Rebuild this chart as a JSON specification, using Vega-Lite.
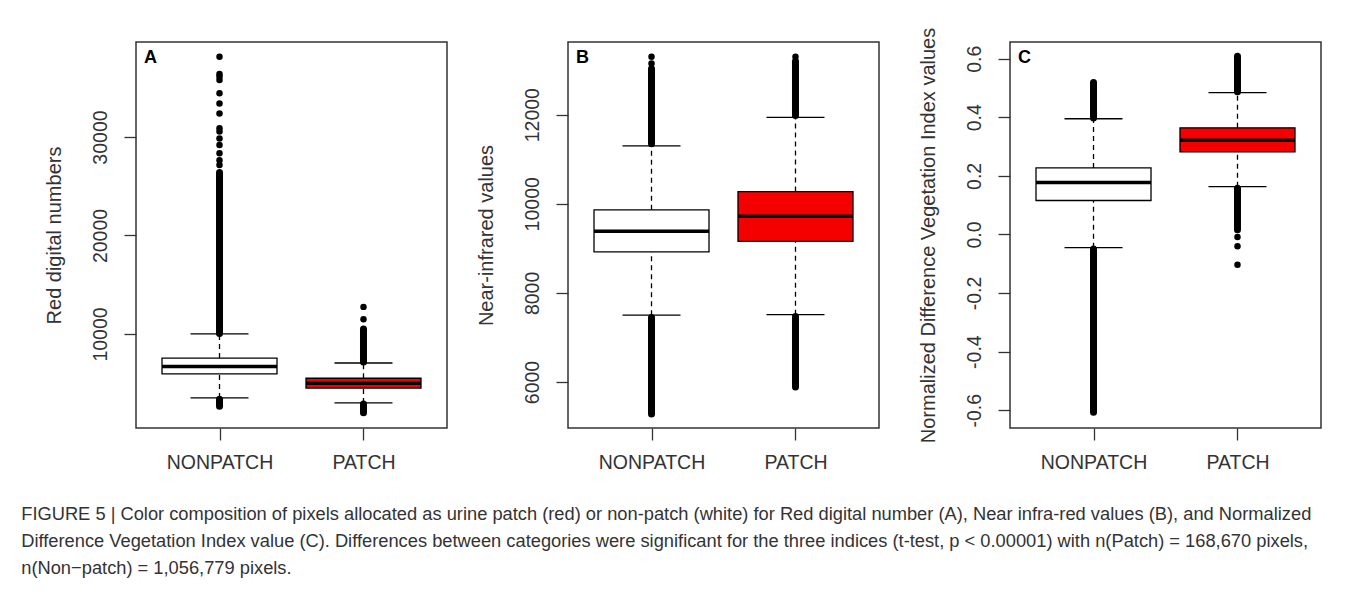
{
  "$schema": "https://vega.github.io/schema/vega-lite/v6.json",
  "padding": {"left": 21, "top": 26, "right": 0, "bottom": 0},
  "background": "white",
  "datasets": {
    "boxes": [
      {"panel": "A", "group": "NONPATCH", "lower": 3500, "q1": 5950, "median": 6700, "q3": 7550, "upper": 10000},
      {"panel": "A", "group": "PATCH", "lower": 3000, "q1": 4500, "median": 5000, "q3": 5500, "upper": 7050},
      {"panel": "B", "group": "NONPATCH", "lower": 7500, "q1": 8920, "median": 9385, "q3": 9865, "upper": 11300},
      {"panel": "B", "group": "PATCH", "lower": 7510, "q1": 9155, "median": 9720, "q3": 10275, "upper": 11940},
      {"panel": "C", "group": "NONPATCH", "lower": -0.045, "q1": 0.116, "median": 0.177, "q3": 0.227, "upper": 0.395},
      {"panel": "C", "group": "PATCH", "lower": 0.163, "q1": 0.282, "median": 0.322, "q3": 0.364, "upper": 0.484}
    ],
    "ranges": [
      {"panel": "A", "group": "NONPATCH", "from": 10050, "to": 26400},
      {"panel": "A", "group": "NONPATCH", "from": 3380, "to": 2650},
      {"panel": "A", "group": "PATCH", "from": 7150, "to": 10500},
      {"panel": "A", "group": "PATCH", "from": 2900, "to": 2000},
      {"panel": "B", "group": "NONPATCH", "from": 11350, "to": 13030},
      {"panel": "B", "group": "NONPATCH", "from": 7450, "to": 5280},
      {"panel": "B", "group": "PATCH", "from": 11980, "to": 13200},
      {"panel": "B", "group": "PATCH", "from": 7470, "to": 5890},
      {"panel": "C", "group": "NONPATCH", "from": 0.398, "to": 0.519},
      {"panel": "C", "group": "NONPATCH", "from": -0.05, "to": -0.607},
      {"panel": "C", "group": "PATCH", "from": 0.487, "to": 0.608},
      {"panel": "C", "group": "PATCH", "from": 0.158, "to": 0.016}
    ],
    "points": [
      {"panel": "A", "group": "NONPATCH", "value": 27150},
      {"panel": "A", "group": "NONPATCH", "value": 27650},
      {"panel": "A", "group": "NONPATCH", "value": 28350},
      {"panel": "A", "group": "NONPATCH", "value": 29200},
      {"panel": "A", "group": "NONPATCH", "value": 29850},
      {"panel": "A", "group": "NONPATCH", "value": 30550},
      {"panel": "A", "group": "NONPATCH", "value": 30900},
      {"panel": "A", "group": "NONPATCH", "value": 32400},
      {"panel": "A", "group": "NONPATCH", "value": 33400},
      {"panel": "A", "group": "NONPATCH", "value": 34450},
      {"panel": "A", "group": "NONPATCH", "value": 35800},
      {"panel": "A", "group": "NONPATCH", "value": 36150},
      {"panel": "A", "group": "NONPATCH", "value": 36400},
      {"panel": "A", "group": "NONPATCH", "value": 38150},
      {"panel": "A", "group": "PATCH", "value": 11500},
      {"panel": "A", "group": "PATCH", "value": 12750},
      {"panel": "B", "group": "NONPATCH", "value": 13150},
      {"panel": "B", "group": "NONPATCH", "value": 13300},
      {"panel": "B", "group": "PATCH", "value": 13300},
      {"panel": "C", "group": "PATCH", "value": -0.009},
      {"panel": "C", "group": "PATCH", "value": -0.04},
      {"panel": "C", "group": "PATCH", "value": -0.103}
    ]
  },
  "title": {
    "text": [
      "FIGURE 5 | Color composition of pixels allocated as urine patch (red) or non-patch (white) for Red digital number (A), Near infra-red values (B), and Normalized",
      "Difference Vegetation Index value (C). Differences between categories were significant for the three indices (t-test, p < 0.00001) with n(Patch) = 168,670 pixels,",
      "n(Non−patch) = 1,056,779 pixels."
    ],
    "orient": "bottom",
    "anchor": "start",
    "frame": "bounds",
    "offset": 34,
    "dx": -22,
    "fontSize": 18.3,
    "fontWeight": "normal",
    "font": "Liberation Sans",
    "color": "#333333",
    "lineHeight": 27
  },
  "spacing": 37,
  "hconcat": [
    {
      "spacing": 27,
      "hconcat": [
        {
          "width": 311,
          "height": 386,
          "title": {"text": "A", "anchor": "start", "frame": "group", "orient": "top", "offset": 0, "dx": 8, "dy": 25, "fontSize": 18, "fontWeight": "bold", "color": "black"},
          "encoding": {
            "x": {"field": "group", "type": "nominal", "scale": {"type": "point", "padding": 0.58, "domain": ["NONPATCH", "PATCH"]}, "axis": {"title": null, "labelAngle": 0, "labelPadding": 13}}
          },
          "layer": [
            {
              "data": {"name": "boxes"},
              "transform": [{"filter": "datum.panel == 'A'"}],
              "mark": {"type": "rule", "strokeDash": [5, 4], "strokeWidth": 1.3, "color": "black"},
              "encoding": {
                "y": {"field": "q3", "type": "quantitative", "scale": {"domain": [450, 39650], "nice": false, "zero": false}, "axis": {"title": "Red digital numbers", "values": [10000, 20000, 30000], "format": "d", "labelAngle": -90, "labelAlign": "center", "labelBaseline": "bottom", "labelPadding": 14, "titlePadding": 26, "titleLimit": 1000}},
                "y2": {"field": "upper"}
              }
            },
            {
              "data": {"name": "boxes"},
              "transform": [{"filter": "datum.panel == 'A'"}],
              "mark": {"type": "rule", "strokeDash": [5, 4], "strokeWidth": 1.3, "color": "black"},
              "encoding": {"y": {"field": "lower", "type": "quantitative"}, "y2": {"field": "q1"}}
            },
            {
              "data": {"name": "ranges"},
              "transform": [{"filter": "datum.panel == 'A'"}],
              "mark": {"type": "rule", "strokeWidth": 7, "strokeCap": "round", "color": "black"},
              "encoding": {"y": {"field": "from", "type": "quantitative"}, "y2": {"field": "to"}}
            },
            {
              "data": {"name": "points"},
              "transform": [{"filter": "datum.panel == 'A'"}],
              "mark": {"type": "circle", "size": 42, "opacity": 1, "color": "black"},
              "encoding": {"y": {"field": "value", "type": "quantitative"}}
            },
            {
              "data": {"name": "boxes"},
              "transform": [{"filter": "datum.panel == 'A'"}],
              "mark": {"type": "bar", "size": 115, "stroke": "black", "strokeWidth": 1.3, "opacity": 1},
              "encoding": {
                "y": {"field": "q1", "type": "quantitative"}, "y2": {"field": "q3"},
                "color": {"field": "group", "type": "nominal", "scale": {"domain": ["NONPATCH", "PATCH"], "range": ["#ffffff", "#f50000"]}, "legend": null}
              }
            },
            {
              "data": {"name": "boxes"},
              "transform": [{"filter": "datum.panel == 'A'"}],
              "mark": {"type": "tick", "size": 115, "thickness": 3.5, "color": "black", "opacity": 1},
              "encoding": {"y": {"field": "median", "type": "quantitative"}}
            },
            {
              "data": {"name": "boxes"},
              "transform": [{"filter": "datum.panel == 'A'"}],
              "mark": {"type": "tick", "size": 58, "thickness": 1.3, "color": "black", "opacity": 1},
              "encoding": {"y": {"field": "upper", "type": "quantitative"}}
            },
            {
              "data": {"name": "boxes"},
              "transform": [{"filter": "datum.panel == 'A'"}],
              "mark": {"type": "tick", "size": 58, "thickness": 1.3, "color": "black", "opacity": 1},
              "encoding": {"y": {"field": "lower", "type": "quantitative"}}
            }
          ]
        },
        {
          "width": 311,
          "height": 386,
          "title": {"text": "B", "anchor": "start", "frame": "group", "orient": "top", "offset": 0, "dx": 8, "dy": 25, "fontSize": 18, "fontWeight": "bold", "color": "black"},
          "encoding": {
            "x": {"field": "group", "type": "nominal", "scale": {"type": "point", "padding": 0.58, "domain": ["NONPATCH", "PATCH"]}, "axis": {"title": null, "labelAngle": 0, "labelPadding": 13}}
          },
          "layer": [
            {
              "data": {"name": "boxes"},
              "transform": [{"filter": "datum.panel == 'B'"}],
              "mark": {"type": "rule", "strokeDash": [5, 4], "strokeWidth": 1.3, "color": "black"},
              "encoding": {
                "y": {"field": "q3", "type": "quantitative", "scale": {"domain": [4967, 13632], "nice": false, "zero": false}, "axis": {"title": "Near-infrared values", "values": [6000, 8000, 10000, 12000], "format": "d", "labelAngle": -90, "labelAlign": "center", "labelBaseline": "bottom", "labelPadding": 14, "titlePadding": 26, "titleLimit": 1000}},
                "y2": {"field": "upper"}
              }
            },
            {
              "data": {"name": "boxes"},
              "transform": [{"filter": "datum.panel == 'B'"}],
              "mark": {"type": "rule", "strokeDash": [5, 4], "strokeWidth": 1.3, "color": "black"},
              "encoding": {"y": {"field": "lower", "type": "quantitative"}, "y2": {"field": "q1"}}
            },
            {
              "data": {"name": "ranges"},
              "transform": [{"filter": "datum.panel == 'B'"}],
              "mark": {"type": "rule", "strokeWidth": 7, "strokeCap": "round", "color": "black"},
              "encoding": {"y": {"field": "from", "type": "quantitative"}, "y2": {"field": "to"}}
            },
            {
              "data": {"name": "points"},
              "transform": [{"filter": "datum.panel == 'B'"}],
              "mark": {"type": "circle", "size": 42, "opacity": 1, "color": "black"},
              "encoding": {"y": {"field": "value", "type": "quantitative"}}
            },
            {
              "data": {"name": "boxes"},
              "transform": [{"filter": "datum.panel == 'B'"}],
              "mark": {"type": "bar", "size": 115, "stroke": "black", "strokeWidth": 1.3, "opacity": 1},
              "encoding": {
                "y": {"field": "q1", "type": "quantitative"}, "y2": {"field": "q3"},
                "color": {"field": "group", "type": "nominal", "scale": {"domain": ["NONPATCH", "PATCH"], "range": ["#ffffff", "#f50000"]}, "legend": null}
              }
            },
            {
              "data": {"name": "boxes"},
              "transform": [{"filter": "datum.panel == 'B'"}],
              "mark": {"type": "tick", "size": 115, "thickness": 3.5, "color": "black", "opacity": 1},
              "encoding": {"y": {"field": "median", "type": "quantitative"}}
            },
            {
              "data": {"name": "boxes"},
              "transform": [{"filter": "datum.panel == 'B'"}],
              "mark": {"type": "tick", "size": 58, "thickness": 1.3, "color": "black", "opacity": 1},
              "encoding": {"y": {"field": "upper", "type": "quantitative"}}
            },
            {
              "data": {"name": "boxes"},
              "transform": [{"filter": "datum.panel == 'B'"}],
              "mark": {"type": "tick", "size": 58, "thickness": 1.3, "color": "black", "opacity": 1},
              "encoding": {"y": {"field": "lower", "type": "quantitative"}}
            }
          ]
        }
      ]
    },
    {
      "width": 311,
      "height": 386,
      "title": {"text": "C", "anchor": "start", "frame": "group", "orient": "top", "offset": -15, "dx": 8, "dy": 25, "fontSize": 18, "fontWeight": "bold", "color": "black"},
      "encoding": {
        "x": {"field": "group", "type": "nominal", "scale": {"type": "point", "padding": 0.58, "domain": ["NONPATCH", "PATCH"]}, "axis": {"title": null, "labelAngle": 0, "labelPadding": 13}}
      },
      "layer": [
        {
          "data": {"name": "boxes"},
          "transform": [{"filter": "datum.panel == 'C'"}],
          "mark": {"type": "rule", "strokeDash": [5, 4], "strokeWidth": 1.3, "color": "black"},
          "encoding": {
            "y": {"field": "q3", "type": "quantitative", "scale": {"domain": [-0.6606, 0.657], "nice": false, "zero": false}, "axis": {"title": "Normalized Difference Vegetation Index values", "values": [-0.6, -0.4, -0.2, 0, 0.2, 0.4, 0.6], "labelExpr": "replace(format(datum.value, '.1f'), '\u2212', '-')", "labelAngle": -90, "labelAlign": "center", "labelBaseline": "bottom", "labelPadding": 14, "titlePadding": 26, "titleLimit": 1000}},
            "y2": {"field": "upper"}
          }
        },
        {
          "data": {"name": "boxes"},
          "transform": [{"filter": "datum.panel == 'C'"}],
          "mark": {"type": "rule", "strokeDash": [5, 4], "strokeWidth": 1.3, "color": "black"},
          "encoding": {"y": {"field": "lower", "type": "quantitative"}, "y2": {"field": "q1"}}
        },
        {
          "data": {"name": "ranges"},
          "transform": [{"filter": "datum.panel == 'C'"}],
          "mark": {"type": "rule", "strokeWidth": 7, "strokeCap": "round", "color": "black"},
          "encoding": {"y": {"field": "from", "type": "quantitative"}, "y2": {"field": "to"}}
        },
        {
          "data": {"name": "points"},
          "transform": [{"filter": "datum.panel == 'C'"}],
          "mark": {"type": "circle", "size": 42, "opacity": 1, "color": "black"},
          "encoding": {"y": {"field": "value", "type": "quantitative"}}
        },
        {
          "data": {"name": "boxes"},
          "transform": [{"filter": "datum.panel == 'C'"}],
          "mark": {"type": "bar", "size": 115, "stroke": "black", "strokeWidth": 1.3, "opacity": 1},
          "encoding": {
            "y": {"field": "q1", "type": "quantitative"}, "y2": {"field": "q3"},
            "color": {"field": "group", "type": "nominal", "scale": {"domain": ["NONPATCH", "PATCH"], "range": ["#ffffff", "#f50000"]}, "legend": null}
          }
        },
        {
          "data": {"name": "boxes"},
          "transform": [{"filter": "datum.panel == 'C'"}],
          "mark": {"type": "tick", "size": 115, "thickness": 3.5, "color": "black", "opacity": 1},
          "encoding": {"y": {"field": "median", "type": "quantitative"}}
        },
        {
          "data": {"name": "boxes"},
          "transform": [{"filter": "datum.panel == 'C'"}],
          "mark": {"type": "tick", "size": 58, "thickness": 1.3, "color": "black", "opacity": 1},
          "encoding": {"y": {"field": "upper", "type": "quantitative"}}
        },
        {
          "data": {"name": "boxes"},
          "transform": [{"filter": "datum.panel == 'C'"}],
          "mark": {"type": "tick", "size": 58, "thickness": 1.3, "color": "black", "opacity": 1},
          "encoding": {"y": {"field": "lower", "type": "quantitative"}}
        }
      ]
    }
  ],
  "resolve": {"scale": {"color": "shared"}},
  "config": {
    "font": "Liberation Sans",
    "view": {"stroke": "#333333", "strokeWidth": 1.5},
    "axis": {"grid": false, "domain": false, "tickColor": "#333333", "tickWidth": 1.3, "tickSize": 12, "labelFontSize": 19.5, "labelColor": "#333333", "titleFontSize": 20, "titleFontWeight": "normal", "titleColor": "#333333"}
  }
}
